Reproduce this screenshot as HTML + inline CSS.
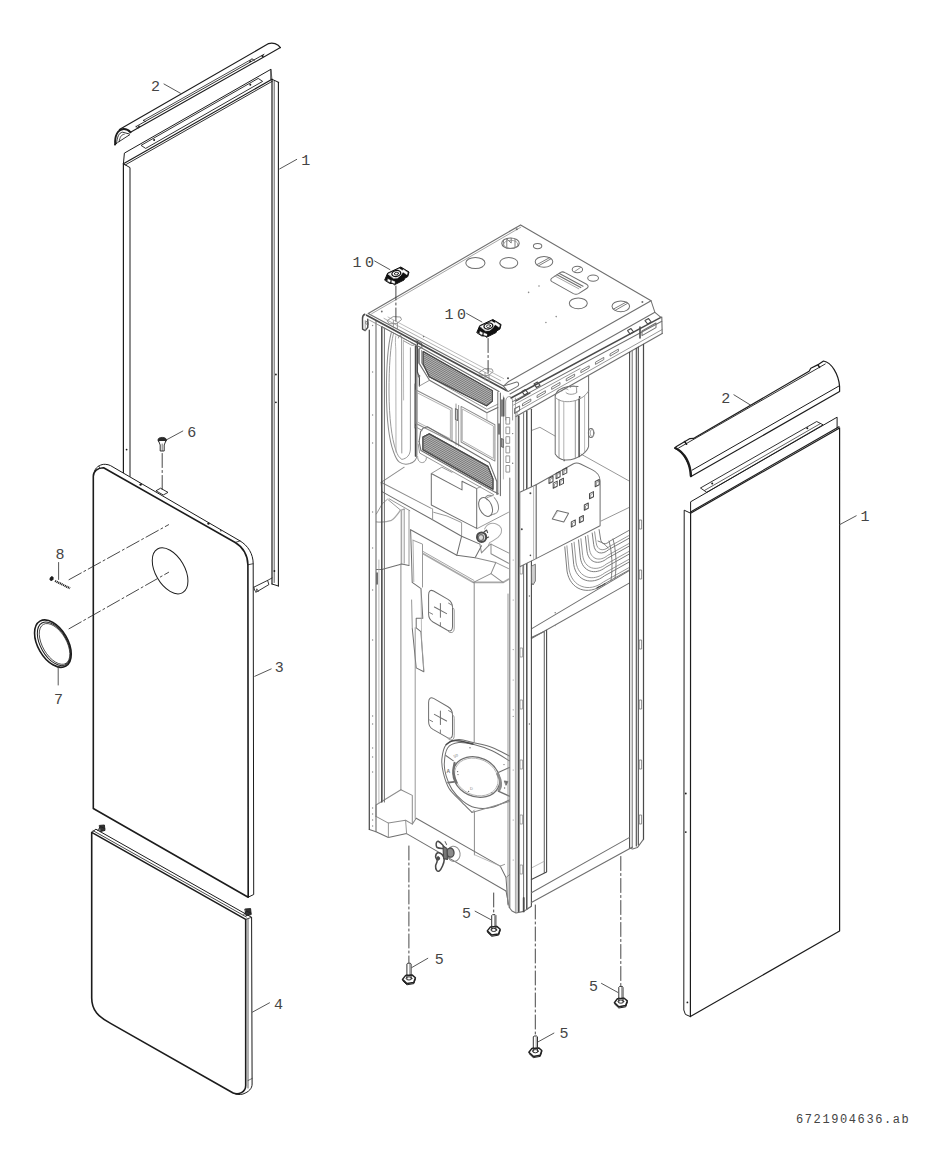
<!DOCTYPE html>
<html><head><meta charset="utf-8"><title>Exploded view</title>
<style>
html,body{margin:0;padding:0;background:#fff;}
body{width:942px;height:1166px;overflow:hidden;font-family:"Liberation Sans",sans-serif;}
svg{display:block;stroke-linecap:round;stroke-linejoin:round;}
</style></head><body>
<svg width="942" height="1166" viewBox="0 0 942 1166">
<rect width="942" height="1166" fill="#fff"/>
<g id="trimL">
<path d="M115.2,144.4 C114.6,136.0 117.4,129.8 123.7,128.9 C126.6,128.8 128.8,130.2 130.5,132.3" stroke="#1c1c1c" stroke-width="2.0" fill="none" />
<line x1="117.7" y1="142.5" x2="129.6" y2="134.8" stroke="#1c1c1c" stroke-width="0.9" />
<path d="M116.6,143.4 C117,137 119,132.6 122.6,132.2 L129.4,134" stroke="#1c1c1c" stroke-width="0.9" fill="none" />
<path d="M114.4,144.8 L116.6,143.4" stroke="#1c1c1c" stroke-width="1.0" fill="none" />
<path d="M119.2,141.5 C119.8,136.8 121.6,134.4 124.2,134.3" stroke="#1c1c1c" stroke-width="0.8" fill="none" />
<line x1="119.4" y1="129.6" x2="268.6" y2="43.6" stroke="#1c1c1c" stroke-width="1.2" />
<path d="M268.6,43.6 C272.5,42.4 278,43.6 280.4,47.6" stroke="#1c1c1c" stroke-width="1.2" fill="none" />
<line x1="130.5" y1="132.3" x2="280.4" y2="47.6" stroke="#1c1c1c" stroke-width="1.1" />
<line x1="136.0" y1="126.6" x2="264.0" y2="54.3" stroke="#1c1c1c" stroke-width="0.9" />
<line x1="143.4" y1="120.4" x2="252.0" y2="59.0" stroke="#1c1c1c" stroke-width="0.8" />
<path d="M136.0,126.6 L138.0,128.0" stroke="#1c1c1c" stroke-width="0.8" fill="none" />
<path d="M143.4,120.4 L145.6,121.6" stroke="#1c1c1c" stroke-width="0.8" fill="none" />
<path d="M252.0,59.0 L254.4,60.2" stroke="#1c1c1c" stroke-width="0.8" fill="none" />
<circle cx="262.6" cy="56.2" r="1.1" fill="#1c1c1c"/>
<circle cx="250.2" cy="61.2" r="0.9" fill="#1c1c1c"/>
<circle cx="139.0" cy="126.4" r="0.9" fill="#1c1c1c"/>
</g>
<g id="panelL">
<path d="M123.4,163.8 L124.4,153.1 L270.9,69.3 L270.9,79.3" stroke="#1c1c1c" stroke-width="1.0" fill="none" />
<path d="M141.4,145.2 L258.2,78.4 L262.6,81.4 L146.0,148.2 Z" stroke="#1c1c1c" stroke-width="0.9" fill="none" />
<circle cx="154.1" cy="140.0" r="1.0" fill="#1c1c1c"/>
<circle cx="250.3" cy="84.8" r="1.0" fill="#1c1c1c"/>
<line x1="123.4" y1="163.8" x2="272.0" y2="79.3" stroke="#1c1c1c" stroke-width="1.2" />
<line x1="125.2" y1="165.0" x2="272.4" y2="81.2" stroke="#1c1c1c" stroke-width="0.9" />
<path d="M272.0,79.3 L278.4,82.2" stroke="#1c1c1c" stroke-width="1.0" fill="none" />
<path d="M270.9,69.3 L272.0,79.3" stroke="#1c1c1c" stroke-width="0.6" fill="none" />
<line x1="272.0" y1="79.3" x2="272.0" y2="584.0" stroke="#1c1c1c" stroke-width="1.2" />
<line x1="274.2" y1="81.0" x2="274.2" y2="582.5" stroke="#1c1c1c" stroke-width="0.7" />
<line x1="278.4" y1="82.2" x2="278.4" y2="586.0" stroke="#1c1c1c" stroke-width="1.1" />
<line x1="123.4" y1="163.8" x2="123.4" y2="472.6" stroke="#1c1c1c" stroke-width="1.2" />
<path d="M123.4,163.8 L130.0,167.6 L130.0,476.4" stroke="#1c1c1c" stroke-width="1.0" fill="none" />
<circle cx="126.6" cy="449.6" r="0.9" fill="#1c1c1c"/>
<circle cx="275.9" cy="402.3" r="0.9" fill="#1c1c1c"/>
<circle cx="274.4" cy="571.0" r="0.9" fill="#1c1c1c"/>
<circle cx="275.9" cy="374.5" r="0.9" fill="#1c1c1c"/>
<path d="M272.0,584.0 L278.4,586.0" stroke="#1c1c1c" stroke-width="1.0" fill="none" />
<path d="M253.8,587.2 L267.6,580.4 L268.9,584.6 L256.4,592.0 L254.6,590.2 L253.8,587.2" stroke="#1c1c1c" stroke-width="0.9" fill="none" />
<path d="M267.6,580.4 L272.0,578.0" stroke="#1c1c1c" stroke-width="0.8" fill="none" />
<path d="M255.8,592.4 L256.8,588.8 L258.4,591.4" stroke="#1c1c1c" stroke-width="0.7" fill="none" />
</g>
<g id="screw6">
<ellipse cx="162.2" cy="440.0" rx="4.2" ry="2.6" transform="rotate(0 162.2 440.0)" stroke="#1c1c1c" stroke-width="0.8" fill="#2a2a2a"/>
<path d="M158.6,441.0 L160.2,445.0 L160.2,451.0 L164.2,451.0 L164.2,445.0 L165.8,441.0" stroke="#1c1c1c" stroke-width="0.9" fill="#fff" />
<line x1="162.2" y1="444.0" x2="162.2" y2="450.5" stroke="#1c1c1c" stroke-width="0.6" />
<line x1="162.2" y1="453.5" x2="162.2" y2="489.5" stroke="#333" stroke-width="0.9" stroke-dasharray="14 3 2 3"/>
<path d="M156.3,490.6 L160.6,488.2 L168.0,492.4 L163.6,494.8 Z" stroke="#1c1c1c" stroke-width="0.9" fill="none" />
<line x1="165.8" y1="440.2" x2="182.8" y2="431.0" stroke="#444" stroke-width="0.9" />
<text x="191.7" y="436.6" font-family="'Liberation Mono', monospace" font-size="15" fill="#444" text-anchor="middle" letter-spacing="0">6</text>
</g>
<g id="panel3">
<path d="M94.6,471.0 C95.6,468.4 97.0,467.0 98.8,466.1 C101.0,464.6 103.2,464.2 105.2,464.3 C107.2,464.4 109.0,464.8 110.5,465.6 L240.0,540.9 C248.0,545.6 253.2,554.0 253.2,563.7 L253.7,894.5 L248.2,897.2" stroke="#1c1c1c" stroke-width="1.0" fill="#fff" />
<path d="M93.3,476.2 C93.3,471.6 97.6,467.6 103.6,467.7 L235.2,542.5 C243.0,547.0 247.9,555.6 247.9,564.8 L248.2,897.2 L93.3,808.5 Z" stroke="#1c1c1c" stroke-width="1.6" fill="#fff" />
<line x1="235.2" y1="542.5" x2="240.0" y2="540.9" stroke="#1c1c1c" stroke-width="0.8" />
<line x1="247.9" y1="564.8" x2="253.2" y2="563.7" stroke="#1c1c1c" stroke-width="0.8" />
<line x1="98.8" y1="466.1" x2="100.0" y2="468.6" stroke="#1c1c1c" stroke-width="0.7" />
<circle cx="140.6" cy="484.6" r="1.2" fill="#1c1c1c"/>
<circle cx="208.5" cy="523.6" r="1.2" fill="#1c1c1c"/>
<circle cx="220.9" cy="530.8" r="0.7" fill="#1c1c1c"/>
<ellipse cx="170.1" cy="570.8" rx="25.2" ry="14.6" transform="rotate(60 170.1 570.8)" stroke="#1c1c1c" stroke-width="1.0" fill="none"/>
<line x1="69.0" y1="579.7" x2="168.6" y2="524.7" stroke="#333" stroke-width="0.9" stroke-dasharray="14 3 2 3"/>
<line x1="69.0" y1="628.8" x2="168.6" y2="572.3" stroke="#333" stroke-width="0.9" stroke-dasharray="14 3 2 3"/>
<line x1="254.8" y1="676.3" x2="271.2" y2="668.9" stroke="#444" stroke-width="0.9" />
<text x="279.2" y="672.4" font-family="'Liberation Mono', monospace" font-size="15" fill="#444" text-anchor="middle" letter-spacing="0">3</text>
</g>
<g id="ring7">
<ellipse cx="52.9" cy="643.6" rx="25.9" ry="15.0" transform="rotate(60 52.9 643.6)" stroke="#1c1c1c" stroke-width="1.6" fill="none"/>
<ellipse cx="53.9" cy="643.8" rx="24.0" ry="13.2" transform="rotate(60 53.9 643.8)" stroke="#1c1c1c" stroke-width="1.0" fill="none"/>
<ellipse cx="54.6" cy="644.0" rx="22.6" ry="12.0" transform="rotate(60 54.6 644.0)" stroke="#1c1c1c" stroke-width="0.7" fill="none"/>
<line x1="58.2" y1="666.5" x2="58.2" y2="685.0" stroke="#444" stroke-width="0.9" />
<text x="58.6" y="703.6" font-family="'Liberation Mono', monospace" font-size="15" fill="#444" text-anchor="middle" letter-spacing="0">7</text>
</g>
<g id="screw8">
<ellipse cx="51.6" cy="578.6" rx="1.6" ry="2.1" transform="rotate(30 51.6 578.6)" stroke="#1c1c1c" stroke-width="0.6" fill="#1c1c1c"/>
<line x1="55.0" y1="580.9" x2="70.0" y2="588.3" stroke="#1c1c1c" stroke-width="2.2" stroke-dasharray="1.1 0.7" stroke-linecap="butt"/>
<line x1="58.6" y1="562.5" x2="58.6" y2="579.5" stroke="#444" stroke-width="0.9" />
<text x="60.0" y="559.4" font-family="'Liberation Mono', monospace" font-size="15" fill="#444" text-anchor="middle" letter-spacing="0">8</text>
</g>
<g id="panel4">
<path d="M91.7,832.4 L95.9,829.2 L251.6,917.3 L252.1,1084.0 C252.1,1088.5 249.0,1091.8 243.0,1094.0 C240.0,1095.0 236.0,1094.6 232.7,1092.8" stroke="#1c1c1c" stroke-width="1.0" fill="#fff" />
<path d="M91.7,832.4 L91.7,998.0 C91.7,1010.5 98.5,1017.0 111.0,1023.6 L232.7,1092.8 C238.6,1095.6 245.7,1092.0 245.7,1085.5 L245.7,919.4 Z" stroke="#1c1c1c" stroke-width="1.6" fill="#fff" />
<line x1="93.0" y1="830.6" x2="246.4" y2="917.0" stroke="#1c1c1c" stroke-width="0.8" />
<line x1="245.7" y1="919.4" x2="251.6" y2="917.3" stroke="#1c1c1c" stroke-width="0.8" />
<line x1="248.0" y1="919.0" x2="248.0" y2="1088.0" stroke="#1c1c1c" stroke-width="0.7" />
<line x1="248.0" y1="1080.5" x2="252.1" y2="1078.5" stroke="#1c1c1c" stroke-width="0.6" />
<path d="M99.6,825.4 L104.4,825.0 L105.0,830.4 L100.6,831.6 Z" stroke="#1c1c1c" stroke-width="0.9" fill="#333" />
<path d="M97.6,830.6 L100.4,826.6 L104.8,828.4" stroke="#1c1c1c" stroke-width="0.8" fill="none" />
<path d="M245.2,909.0 L250.6,908.6 L251.2,914.6 L246.4,915.6 Z" stroke="#1c1c1c" stroke-width="0.9" fill="#333" />
<path d="M243.6,915.0 L246.4,911.0 L251.0,913.0" stroke="#1c1c1c" stroke-width="0.8" fill="none" />
<line x1="252.5" y1="1012.1" x2="269.5" y2="1002.8" stroke="#444" stroke-width="0.9" />
<text x="278.5" y="1008.6" font-family="'Liberation Mono', monospace" font-size="15" fill="#444" text-anchor="middle" letter-spacing="0">4</text>
</g>
<line x1="164.0" y1="84.0" x2="180.5" y2="93.3" stroke="#444" stroke-width="0.9" />
<text x="155.6" y="91.4" font-family="'Liberation Mono', monospace" font-size="15" fill="#444" text-anchor="middle" letter-spacing="0">2</text>
<line x1="279.7" y1="168.9" x2="296.7" y2="159.4" stroke="#444" stroke-width="0.9" />
<text x="305.8" y="164.7" font-family="'Liberation Mono', monospace" font-size="15" fill="#444" text-anchor="middle" letter-spacing="0">1</text>
<g id="trimR">
<path d="M674.8,448.2 L676.0,446.8 L690.0,438.6 L693.6,438.4 L696.4,436.8 L809.1,371.2 L810.8,368.3 L817.6,364.9 L823.5,361.0 C831.5,362.4 838.6,374.0 839.6,386.5 L839.6,391.6 L691.0,476.6 C690.6,464.0 683.6,452.0 674.8,448.2 Z" stroke="#1c1c1c" stroke-width="1.2" fill="#fff" />
<path d="M675.4,448.0 C684.2,452.2 690.4,463.0 690.9,476.0" stroke="#1c1c1c" stroke-width="2.4" fill="none" />
<line x1="678.6" y1="448.0" x2="825.2" y2="364.0" stroke="#1c1c1c" stroke-width="0.9" />
<line x1="684.6" y1="441.6" x2="686.6" y2="444.2" stroke="#1c1c1c" stroke-width="1.6" />
<line x1="818.0" y1="365.0" x2="819.6" y2="367.4" stroke="#1c1c1c" stroke-width="1.4" />
<line x1="692.2" y1="470.1" x2="838.8" y2="386.1" stroke="#1c1c1c" stroke-width="1.0" />
</g>
<g id="panelR">
<path d="M690.6,513.2 L690.6,501.8 L837.1,417.2 L837.1,427.9" stroke="#1c1c1c" stroke-width="1.0" fill="none" />
<path d="M700.8,487.8 L816.7,421.5 L823.1,424.8 L707.1,492.1 Z" stroke="#1c1c1c" stroke-width="0.9" fill="none" />
<line x1="704.6" y1="490.4" x2="820.4" y2="423.6" stroke="#1c1c1c" stroke-width="0.7" />
<circle cx="712.2" cy="483.4" r="1.0" fill="#1c1c1c"/>
<circle cx="807.3" cy="428.2" r="1.0" fill="#1c1c1c"/>
<path d="M690.6,513.2 L839.6,427.9 L839.6,930.9 L690.4,1016.6 Z" stroke="#1c1c1c" stroke-width="1.2" fill="none" />
<line x1="690.6" y1="511.9" x2="839.0" y2="426.7" stroke="#1c1c1c" stroke-width="1.1" />
<path d="M690.6,513.2 L684.2,510.2 L683.8,1010.0 L685.4,1014.4 L690.4,1016.6" stroke="#1c1c1c" stroke-width="1.0" fill="none" />
<circle cx="685.8" cy="793.5" r="0.9" fill="#1c1c1c"/>
<circle cx="685.8" cy="832.1" r="0.9" fill="#1c1c1c"/>
<circle cx="687.4" cy="1002.4" r="0.9" fill="#1c1c1c"/>
<line x1="839.6" y1="524.7" x2="856.2" y2="515.8" stroke="#444" stroke-width="0.9" />
<text x="865.1" y="521.4" font-family="'Liberation Mono', monospace" font-size="15" fill="#444" text-anchor="middle" letter-spacing="0">1</text>
<line x1="733.9" y1="394.8" x2="750.4" y2="405.0" stroke="#444" stroke-width="0.9" />
<text x="725.7" y="403.2" font-family="'Liberation Mono', monospace" font-size="15" fill="#444" text-anchor="middle" letter-spacing="0">2</text>
</g>
<g id="unit">
<g id="rightface">
<path d="M532.3,430.2 L539.9,427.3 L555.0,436.0" stroke="#8c8c8c" stroke-width="0.9" fill="none" />
<path d="M581.0,454.1 L628.8,480.8" stroke="#8c8c8c" stroke-width="0.9" fill="none" />
<path d="M601.1,521.0 L628.8,507.6" stroke="#8c8c8c" stroke-width="0.9" fill="none" />
<path d="M555.2,395.8 L555.2,454.1 C557.6,458.0 561.0,459.8 565.0,460.0 C572.0,460.2 578.6,457.6 582.9,454.1 C586.0,451.6 588.0,449.0 588.6,446.4 L588.6,376.0" stroke="#6f6f6f" stroke-width="1.01" fill="none" />
<path d="M555.2,395.8 C556.0,391.6 561.0,388.0 568.0,386.6 C572.0,386.0 575.0,386.0 578.0,386.6" stroke="#6f6f6f" stroke-width="1.01" fill="none" />
<path d="M556.0,398.0 C560.0,402.0 568.0,402.6 575.3,400.6 C581.0,399.0 586.0,395.6 588.6,391.0" stroke="#8c8c8c" stroke-width="0.9" fill="none" />
<line x1="559.0" y1="399.6" x2="559.0" y2="457.6" stroke="#8c8c8c" stroke-width="0.9" />
<line x1="563.8" y1="401.4" x2="563.8" y2="459.6" stroke="#a8a8a8" stroke-width="0.9" />
<line x1="575.3" y1="400.6" x2="575.3" y2="458.6" stroke="#8c8c8c" stroke-width="0.9" />
<line x1="579.1" y1="399.0" x2="579.1" y2="456.6" stroke="#4a4a4a" stroke-width="1.46" />
<line x1="584.6" y1="395.6" x2="584.6" y2="452.0" stroke="#a8a8a8" stroke-width="0.78" />
<path d="M562.0,391.0 C563.0,388.6 566.0,388.0 568.0,389.6 M570.0,387.6 C571.6,385.6 575.0,385.6 576.6,387.6 L576.6,392.0" stroke="#8c8c8c" stroke-width="0.9" fill="none" />
<path d="M566.0,392.6 C568.0,395.0 574.0,395.0 577.0,392.4" stroke="#8c8c8c" stroke-width="0.9" fill="none" />
<circle cx="564.2" cy="460.4" r="0.9" fill="#6f6f6f"/>
<circle cx="579.6" cy="397.0" r="0.9" fill="#4a4a4a"/>
<ellipse cx="591.0" cy="433.0" rx="2.6" ry="4.6" transform="rotate(0 591.0 433.0)" stroke="#6f6f6f" stroke-width="1.01" fill="none"/>
<ellipse cx="592.2" cy="433.0" rx="2.0" ry="3.6" transform="rotate(0 592.2 433.0)" stroke="#8c8c8c" stroke-width="0.78" fill="none"/>
<path d="M564.8,546.8 L567.0,571.0 C570.0,590.0 588.0,596.0 603.0,584.6 L628.8,570.1" stroke="#6f6f6f" stroke-width="0.9" fill="none" />
<path d="M566.9,545.8 L569.0,569.0 C571.9,587.3 589.1,592.9 603.4,582.0 L628.8,567.7" stroke="#8c8c8c" stroke-width="0.9" fill="none" />
<path d="M571.7,543.4 L573.7,564.4 C576.2,581.0 591.6,585.8 604.4,575.9 L628.8,562.2" stroke="#6f6f6f" stroke-width="0.9" fill="none" />
<path d="M574.1,542.2 L576.0,562.1 C578.4,577.9 592.9,582.2 604.9,572.8 L628.8,559.4" stroke="#8c8c8c" stroke-width="0.9" fill="none" />
<path d="M578.5,539.9 L580.4,557.8 C582.4,572.0 595.2,575.6 605.8,567.2 L628.8,554.3" stroke="#6f6f6f" stroke-width="0.9" fill="none" />
<path d="M580.9,538.7 L582.7,555.5 C584.6,568.9 596.5,572.0 606.3,564.1 L628.8,551.5" stroke="#8c8c8c" stroke-width="0.9" fill="none" />
<path d="M585.4,536.5 L587.0,551.2 C588.6,563.0 598.8,565.4 607.2,558.4 L628.8,546.3" stroke="#6f6f6f" stroke-width="0.9" fill="none" />
<path d="M587.8,535.3 L589.4,548.9 C590.8,559.9 600.1,561.8 607.7,555.4 L628.8,543.6" stroke="#8c8c8c" stroke-width="0.9" fill="none" />
<path d="M592.2,533.0 L593.7,544.6 C594.8,554.0 602.4,555.2 608.6,549.7 L628.8,538.4" stroke="#6f6f6f" stroke-width="0.9" fill="none" />
<path d="M594.6,531.8 L596.1,542.3 C597.0,550.9 603.7,551.6 609.1,546.7 L628.8,535.6" stroke="#8c8c8c" stroke-width="0.9" fill="none" />
<path d="M599.1,529.6 L600.4,538.0 C601.0,545.0 606.0,545.0 610.0,541.0 L628.8,530.5" stroke="#6f6f6f" stroke-width="0.9" fill="none" />
<path d="M609.0,541.0 C612.0,552 613.0,566 611.0,580.6 M613.0,539.0 C616.0,550 617.0,564 615.0,578.4" stroke="#6f6f6f" stroke-width="0.9" fill="none" />
<path d="M598.0,541.0 C603.0,542.6 606.0,545.0 608.0,548.0" stroke="#6f6f6f" stroke-width="0.9" fill="none" />
<path d="M597.0,588.0 C599.0,586.0 603.0,586.0 605.0,583.6" stroke="#4a4a4a" stroke-width="1.12" fill="none" />
<line x1="531.4" y1="628.9" x2="629.2" y2="570.6" stroke="#6f6f6f" stroke-width="1.01" />
<line x1="531.4" y1="638.5" x2="629.2" y2="583.1" stroke="#6f6f6f" stroke-width="1.01" />
<circle cx="555.2" cy="612.7" r="0.7" fill="#6f6f6f"/>
<circle cx="555.2" cy="625.6" r="0.6" fill="#8c8c8c"/>
<path d="M531.4,637.6 L544.3,631.4 L544.3,872.4" stroke="#6f6f6f" stroke-width="1.12" fill="none" />
<path d="M546.6,630.4 L546.6,871.9 L531.4,879.5" stroke="#4a4a4a" stroke-width="1.12" fill="none" />
<path d="M531.4,868.0 L544.0,861.4" stroke="#a8a8a8" stroke-width="0.78" fill="none" />
</g>
<g id="leftface">
<path d="M391.3,332.5 C388.0,345 386.4,365 386.4,392 C386.6,418 389.0,440 393.6,452 C395.4,457 397.0,460.6 399.4,462.2 C402.0,464.0 406.0,464.6 410.0,463.6 C414.0,462.4 416.8,459.0 417.0,454.6 L417.1,348.0" stroke="#8c8c8c" stroke-width="1.01" fill="none" />
<path d="M393.4,333.6 C390.4,346 389.0,366 389.0,392 C389.2,418 391.6,438 395.8,450 C397.4,455 399.0,457.6 401.4,459.0" stroke="#8c8c8c" stroke-width="0.9" fill="none" />
<path d="M395.8,336.0 C395.0,340 395.6,345 395.8,350 L396.0,452" stroke="#a8a8a8" stroke-width="0.9" fill="none" />
<path d="M398.4,338.0 C399.0,335 400.6,334.6 401.6,336.6 L401.8,453.0" stroke="#8c8c8c" stroke-width="0.9" fill="none" />
<path d="M403.4,340.0 L403.6,400" stroke="#a8a8a8" stroke-width="0.78" fill="none" />
<path d="M410.4,347.8 L410.4,449.0 C410.2,455 407.0,458.6 402.0,459.4" stroke="#8c8c8c" stroke-width="0.9" fill="none" />
<path d="M404.0,341.0 L410.4,344.6 C412.6,346 414.4,345.6 415.4,344.2" stroke="#8c8c8c" stroke-width="0.9" fill="none" />
<path d="M411.0,342.6 L416.4,345.4 L417.1,348.0" stroke="#6f6f6f" stroke-width="1.01" fill="none" />
<path d="M417.6,456.6 C417.6,460.6 419.6,462.6 422.4,462.6 C425.0,462.4 426.6,460.0 426.4,457.6" stroke="#8c8c8c" stroke-width="0.9" fill="none" />
<path d="M416.0,340.6 L421.6,343.4 L422.0,347.4 L419.0,349.0 L419.0,363.0" stroke="#6f6f6f" stroke-width="1.01" fill="none" />
<path d="M417.4,341.4 L417.4,372.0 L419.4,378.0 L419.4,386.0" stroke="#4a4a4a" stroke-width="1.23" fill="none" />
<line x1="415.6" y1="346.0" x2="415.6" y2="456.0" stroke="#4a4a4a" stroke-width="1.68" />
<circle cx="419.0" cy="376.0" r="1.3" fill="#6f6f6f"/>
<line x1="419.0" y1="346.6" x2="499.0" y2="391.5" stroke="#6f6f6f" stroke-width="1.12" />
<path d="M419.0,349.0 L419.0,363.1 L429.5,380.3 L486.9,412.7 L497.8,407.4" stroke="#6f6f6f" stroke-width="1.12" fill="none" />
<path d="M421.6,350.4 L421.6,363.0 L430.6,377.6 L487.0,409.4 L497.8,404.2" stroke="#8c8c8c" stroke-width="0.9" fill="none" />
<path d="M423.1,351.5 L492.4,390.6 L492.4,401.1 L486.6,405.9 L429.3,376.8 L423.1,363.9 Z" stroke="#4a4a4a" stroke-width="1.01" fill="#bcbcbc" />
<clipPath id="cg1"><path d="M423.1,351.5 L492.4,390.6 L492.4,401.1 L486.6,405.9 L429.3,376.8 L423.1,363.9 Z"/></clipPath>
<g clip-path="url(#cg1)">
<line x1="420.0" y1="350.0" x2="500.0" y2="395.2" stroke="#6e6e6e" stroke-width="0.9" />
<line x1="420.0" y1="351.9" x2="500.0" y2="397.1" stroke="#6e6e6e" stroke-width="0.9" />
<line x1="420.0" y1="353.8" x2="500.0" y2="399.0" stroke="#6e6e6e" stroke-width="0.9" />
<line x1="420.0" y1="355.7" x2="500.0" y2="400.9" stroke="#6e6e6e" stroke-width="0.9" />
<line x1="420.0" y1="357.6" x2="500.0" y2="402.8" stroke="#6e6e6e" stroke-width="0.9" />
<line x1="420.0" y1="359.5" x2="500.0" y2="404.7" stroke="#6e6e6e" stroke-width="0.9" />
<line x1="420.0" y1="361.4" x2="500.0" y2="406.6" stroke="#6e6e6e" stroke-width="0.9" />
<line x1="420.0" y1="363.3" x2="500.0" y2="408.5" stroke="#6e6e6e" stroke-width="0.9" />
<line x1="420.0" y1="365.2" x2="500.0" y2="410.4" stroke="#6e6e6e" stroke-width="0.9" />
<line x1="420.0" y1="367.1" x2="500.0" y2="412.3" stroke="#6e6e6e" stroke-width="0.9" />
<line x1="420.0" y1="369.0" x2="500.0" y2="414.2" stroke="#6e6e6e" stroke-width="0.9" />
<line x1="420.0" y1="370.9" x2="500.0" y2="416.1" stroke="#6e6e6e" stroke-width="0.9" />
<line x1="420.0" y1="372.8" x2="500.0" y2="418.0" stroke="#6e6e6e" stroke-width="0.9" />
<line x1="420.0" y1="374.7" x2="500.0" y2="419.9" stroke="#6e6e6e" stroke-width="0.9" />
</g>
<path d="M423.1,351.5 L492.4,390.6 L492.4,401.1 L486.6,405.9 L429.3,376.8 L423.1,363.9 Z" stroke="#4a4a4a" stroke-width="1.01" fill="none" />
<path d="M414.6,384.0 L414.6,428.0" stroke="#8c8c8c" stroke-width="0.9" fill="none" />
<path d="M429.5,380.3 L419.4,386.0" stroke="#8c8c8c" stroke-width="0.9" fill="none" />
<path d="M416.0,390.0 L452.0,408.5 L452.0,441.5 L416.0,423.5 Z" stroke="#8c8c8c" stroke-width="1.01" fill="none" />
<path d="M417.6,393.0 L450.4,409.8 L450.4,438.8 L417.6,422.2 Z" stroke="#a8a8a8" stroke-width="0.9" fill="none" />
<path d="M461.1,406.4 L494.9,424.8 L494.9,461.1 L461.1,442.0 Z" stroke="#8c8c8c" stroke-width="1.01" fill="none" />
<path d="M462.6,409.2 L493.4,426.0 L493.4,458.4 L462.6,441.0 Z" stroke="#a8a8a8" stroke-width="0.9" fill="none" />
<line x1="456.0" y1="404.0" x2="456.0" y2="445.0" stroke="#8c8c8c" stroke-width="0.9" />
<line x1="458.6" y1="405.4" x2="458.6" y2="446.0" stroke="#8c8c8c" stroke-width="0.9" />
<path d="M455.4,408.6 L457.6,409.8 L457.6,420.6 L455.4,419.4 Z" stroke="#6f6f6f" stroke-width="1.01" fill="none" />
<line x1="452.0" y1="441.5" x2="461.1" y2="446.4" stroke="#8c8c8c" stroke-width="0.9" />
<line x1="486.9" y1="412.7" x2="486.9" y2="420.4" stroke="#a8a8a8" stroke-width="0.78" />
<path d="M499.0,424.0 L499.0,434.0" stroke="#4a4a4a" stroke-width="1.46" fill="none" />
<path d="M419.1,441.6 L420.6,431.6 L423.0,428.2 L427.4,426.8 L489.2,462.4 L496.8,481.5 L496.8,494.3" stroke="#6f6f6f" stroke-width="1.12" fill="none" />
<path d="M416.0,427.0 L422.0,430.4" stroke="#8c8c8c" stroke-width="0.9" fill="none" />
<path d="M419.1,441.6 L421.0,450.6 L494.3,491.7 L498.1,493.6" stroke="#6f6f6f" stroke-width="1.12" fill="none" />
<path d="M418.2,444.0 L419.6,453.0 L493.6,494.6" stroke="#8c8c8c" stroke-width="0.9" fill="none" />
<path d="M422.9,436.9 L429.3,433.8 L487.9,466.2 L493.0,479.0 L493.0,489.2 L422.9,449.7 Z" stroke="#4a4a4a" stroke-width="1.01" fill="#bcbcbc" />
<clipPath id="cg2"><path d="M422.9,436.9 L429.3,433.8 L487.9,466.2 L493.0,479.0 L493.0,489.2 L422.9,449.7 Z"/></clipPath>
<g clip-path="url(#cg2)">
<line x1="418.0" y1="428.4" x2="498.0" y2="472.8" stroke="#6e6e6e" stroke-width="0.9" />
<line x1="418.0" y1="430.3" x2="498.0" y2="474.7" stroke="#6e6e6e" stroke-width="0.9" />
<line x1="418.0" y1="432.2" x2="498.0" y2="476.6" stroke="#6e6e6e" stroke-width="0.9" />
<line x1="418.0" y1="434.1" x2="498.0" y2="478.5" stroke="#6e6e6e" stroke-width="0.9" />
<line x1="418.0" y1="436.0" x2="498.0" y2="480.4" stroke="#6e6e6e" stroke-width="0.9" />
<line x1="418.0" y1="437.9" x2="498.0" y2="482.3" stroke="#6e6e6e" stroke-width="0.9" />
<line x1="418.0" y1="439.8" x2="498.0" y2="484.2" stroke="#6e6e6e" stroke-width="0.9" />
<line x1="418.0" y1="441.7" x2="498.0" y2="486.1" stroke="#6e6e6e" stroke-width="0.9" />
<line x1="418.0" y1="443.6" x2="498.0" y2="488.0" stroke="#6e6e6e" stroke-width="0.9" />
<line x1="418.0" y1="445.5" x2="498.0" y2="489.9" stroke="#6e6e6e" stroke-width="0.9" />
<line x1="418.0" y1="447.4" x2="498.0" y2="491.8" stroke="#6e6e6e" stroke-width="0.9" />
<line x1="418.0" y1="449.3" x2="498.0" y2="493.7" stroke="#6e6e6e" stroke-width="0.9" />
<line x1="418.0" y1="451.2" x2="498.0" y2="495.6" stroke="#6e6e6e" stroke-width="0.9" />
<line x1="418.0" y1="453.1" x2="498.0" y2="497.5" stroke="#6e6e6e" stroke-width="0.9" />
</g>
<path d="M422.9,436.9 L429.3,433.8 L487.9,466.2 L493.0,479.0 L493.0,489.2 L422.9,449.7 Z" stroke="#4a4a4a" stroke-width="1.01" fill="none" />
<path d="M404.2,467.2 L381.1,482.3 L381.9,491.6" stroke="#8c8c8c" stroke-width="1.01" fill="none" />
<line x1="381.1" y1="482.3" x2="431.3" y2="508.4" stroke="#8c8c8c" stroke-width="1.01" />
<path d="M381.9,491.6 L432.1,519.5 L461.6,536.2 L479.9,544.1" stroke="#6f6f6f" stroke-width="1.01" fill="none" />
<path d="M432.6,508.8 L432.6,519.5" stroke="#8c8c8c" stroke-width="0.9" fill="none" />
<path d="M433.7,512.3 L447.0,516.0 L461.6,522.6 L461.6,536.2" stroke="#8c8c8c" stroke-width="0.9" fill="none" />
<path d="M431.3,473.5 L462.0,489.9 L462.0,481.2 L476.7,488.6 L476.7,528.4 L431.3,505.0 Z" stroke="#6f6f6f" stroke-width="1.01" fill="#fff" />
<path d="M431.3,473.5 L441.8,467.2 L452.0,472.4" stroke="#8c8c8c" stroke-width="0.9" fill="none" />
<path d="M476.7,528.8 L508.5,512.3" stroke="#8c8c8c" stroke-width="0.9" fill="none" />
<path d="M476.7,488.6 L480.6,486.6" stroke="#8c8c8c" stroke-width="0.9" fill="none" />
<ellipse cx="491.6" cy="504.6" rx="9.9" ry="6.2" transform="rotate(66 491.6 504.6)" stroke="#8c8c8c" stroke-width="1.01" fill="#fff"/>
<path d="M487.4,497.6 L493.6,495.6 L495.8,513.4 L488.6,516.2 Z" fill="#fff" stroke="none"/>
<line x1="487.0" y1="497.6" x2="493.2" y2="495.4" stroke="#8c8c8c" stroke-width="0.9" />
<line x1="488.4" y1="516.2" x2="495.4" y2="513.4" stroke="#8c8c8c" stroke-width="0.9" />
<ellipse cx="485.6" cy="507.0" rx="9.9" ry="6.2" transform="rotate(66 485.6 507.0)" stroke="#6f6f6f" stroke-width="1.01" fill="#fff"/>
<circle cx="487.0" cy="499.6" r="0.6" fill="#6f6f6f"/>
<path d="M484.6,529.0 C486.0,526.0 488.0,524.4 490.6,523.6 C494.6,522.6 499.6,524.6 501.2,528.2 C502.4,531.6 501.0,534.6 498.0,537.4 C495.6,539.4 492.6,541.0 489.6,542.6 L488.6,545.0" stroke="#a8a8a8" stroke-width="1.01" fill="none" />
<path d="M479.9,544.1 L481.5,552.9 L488.6,545.7" stroke="#8c8c8c" stroke-width="1.01" fill="none" />
<ellipse cx="481.6" cy="537.2" rx="4.6" ry="4.8" transform="rotate(0 481.6 537.2)" stroke="#4a4a4a" stroke-width="2.02" fill="#ddd"/>
<ellipse cx="481.0" cy="537.6" rx="2.6" ry="3.0" transform="rotate(0 481.0 537.6)" stroke="#6f6f6f" stroke-width="1.12" fill="none"/>
<path d="M484.0,532.0 L486.6,530.0 L487.6,532.6 M485.6,538.6 L488.6,537.0" stroke="#4a4a4a" stroke-width="1.12" fill="none" />
<path d="M410.6,529.8 L456.8,555.3 L475.1,557.7 L481.5,545.7" stroke="#6f6f6f" stroke-width="1.01" fill="none" />
<path d="M461.6,536.2 L456.8,555.3" stroke="#6f6f6f" stroke-width="1.01" fill="none" />
<path d="M376.4,513.9 L382.4,503.6 L387.5,499.2 L400.3,509.9" stroke="#8c8c8c" stroke-width="0.9" fill="none" />
<path d="M381.9,492.4 L381.9,503.0" stroke="#8c8c8c" stroke-width="0.9" fill="none" />
<path d="M376.4,521.8 C382,522.4 388,521.6 391.5,520.3 C395.6,517.6 398.0,513.6 400.3,510.4 L404.2,509.1" stroke="#a8a8a8" stroke-width="1.34" fill="none" />
<path d="M389.1,498.8 L409.8,510.7" stroke="#8c8c8c" stroke-width="0.9" fill="none" />
<line x1="401.4" y1="511.0" x2="401.4" y2="563.6" stroke="#a8a8a8" stroke-width="1.57" />
<line x1="404.2" y1="509.1" x2="404.2" y2="563.2" stroke="#8c8c8c" stroke-width="0.9" />
<line x1="409.0" y1="510.7" x2="409.0" y2="565.0" stroke="#8c8c8c" stroke-width="0.9" />
<path d="M376.4,569.6 L381.9,569.6 L401.8,564.0 L409.0,565.6" stroke="#6f6f6f" stroke-width="1.01" fill="none" />
<line x1="381.9" y1="569.6" x2="381.9" y2="800.0" stroke="#8c8c8c" stroke-width="0.9" />
<line x1="400.9" y1="564.0" x2="400.9" y2="789.7" stroke="#8c8c8c" stroke-width="1.01" />
<path d="M377.0,573.0 L377.0,584.0" stroke="#4a4a4a" stroke-width="1.57" fill="none" />
<path d="M410.6,529.8 L411.6,560 L412.2,582.4 L421.0,588.7 L422.8,618.2 L416.2,618.2 L416.2,627.8 L420.9,631.6 L423.8,671.7 L416.2,667.9 L412.3,628.7" stroke="#6f6f6f" stroke-width="1.01" fill="none" />
<path d="M413.0,540.2 L422.5,544.1 L422.5,587.1" stroke="#8c8c8c" stroke-width="0.9" fill="none" />
<path d="M413.0,540.2 L413.8,581.6" stroke="#a8a8a8" stroke-width="0.9" fill="none" />
<path d="M412.3,628.7 L411.6,600.0" stroke="#8c8c8c" stroke-width="0.9" fill="none" />
<path d="M421.0,588.7 L421.6,640.0 L424.0,671.0" stroke="#a8a8a8" stroke-width="0.78" fill="none" />
<line x1="415.2" y1="627.8" x2="415.2" y2="818.3" stroke="#8c8c8c" stroke-width="0.9" />
<path d="M423.3,553.7 L473.5,582.4 L503.0,582.4 L508.5,579.2" stroke="#a8a8a8" stroke-width="1.68" fill="none" />
<path d="M423.3,551.6 L473.9,580.4" stroke="#8c8c8c" stroke-width="0.78" fill="none" />
<path d="M475.1,557.7 L495.8,562.5 L491.0,573.6 L473.5,582.4" stroke="#8c8c8c" stroke-width="1.01" fill="none" />
<path d="M491.0,573.6 L503.0,582.4" stroke="#8c8c8c" stroke-width="1.01" fill="none" />
<path d="M491.0,544.1 L508.5,552.9" stroke="#8c8c8c" stroke-width="1.01" fill="none" />
<path d="M488.6,545.7 L491.0,544.1 L491.0,553.7 L508.5,563.2" stroke="#8c8c8c" stroke-width="1.01" fill="none" />
<path d="M495.8,562.5 L508.5,568.6" stroke="#8c8c8c" stroke-width="0.9" fill="none" />
<line x1="474.2" y1="582.4" x2="474.2" y2="742.0" stroke="#8c8c8c" stroke-width="1.01" />
<path d="M428.6,595.0 C428.6,591.0 430.4,589.4 433.6,591.0 L448.0,599.4 C451.0,601.2 452.5,603.6 452.5,607.4 L452.5,626.6 C452.5,630.6 450.6,631.8 447.4,630.2 L433.0,622.0 C430.0,620.2 428.6,618.0 428.6,614.0 Z" stroke="#6f6f6f" stroke-width="1.01" fill="none" />
<path d="M452.5,607.4 C453.8,608.0 454.2,609.4 454.2,611.0 L454.2,628.0 C454.2,632.2 452.0,633.4 448.8,632.0 L447.4,630.2" stroke="#8c8c8c" stroke-width="0.9" fill="none" />
<line x1="440.4" y1="603.6" x2="440.4" y2="617.2" stroke="#6f6f6f" stroke-width="1.01" />
<line x1="434.4" y1="607.0" x2="446.6" y2="613.6" stroke="#6f6f6f" stroke-width="1.01" />
<line x1="448.6" y1="603.2" x2="451.8" y2="605.0" stroke="#6f6f6f" stroke-width="0.9" />
<line x1="429.6" y1="612.6" x2="432.6" y2="614.2" stroke="#6f6f6f" stroke-width="0.9" />
<line x1="440.4" y1="622.6" x2="440.4" y2="625.8" stroke="#6f6f6f" stroke-width="0.9" />
<path d="M428.6,702.4 C428.6,698.4 430.4,696.8 433.6,698.4 L448.0,706.8 C451.0,708.6 452.5,711.0 452.5,714.8 L452.5,734.0 C452.5,738.0 450.6,739.1999999999999 447.4,737.6 L433.0,729.4 C430.0,727.6 428.6,725.4 428.6,721.4 Z" stroke="#6f6f6f" stroke-width="1.01" fill="none" />
<path d="M452.5,714.8 C453.8,715.4 454.2,716.8 454.2,718.4 L454.2,735.4 C454.2,739.6 452.0,740.8 448.8,739.4 L447.4,737.6" stroke="#8c8c8c" stroke-width="0.9" fill="none" />
<line x1="440.4" y1="711.0" x2="440.4" y2="724.6" stroke="#6f6f6f" stroke-width="1.01" />
<line x1="434.4" y1="714.4" x2="446.6" y2="721.0" stroke="#6f6f6f" stroke-width="1.01" />
<line x1="448.6" y1="710.6" x2="451.8" y2="712.4" stroke="#6f6f6f" stroke-width="0.9" />
<line x1="429.6" y1="720.0" x2="432.6" y2="721.6" stroke="#6f6f6f" stroke-width="0.9" />
<line x1="440.4" y1="730.0" x2="440.4" y2="733.2" stroke="#6f6f6f" stroke-width="0.9" />
<path d="M509.3,756.0 C506.4,754.6 498.2,749.6 492.1,747.4 C486.1,745.2 478.6,743.9 473.0,742.6 C467.4,741.3 463.2,739.3 458.7,739.6 C454.2,739.9 449.0,741.4 446.2,744.6 C443.4,747.8 442.4,754.1 441.9,758.9 C441.4,763.7 442.2,768.3 443.4,773.2 C444.6,778.1 446.1,783.7 449.1,788.5 C452.1,793.3 457.7,797.9 461.5,801.9 C465.3,805.9 470.2,810.6 472.0,812.4" stroke="#6f6f6f" stroke-width="1.01" fill="none" />
<path d="M509.3,760.8 C506.4,759.1 498.0,753.5 492.1,750.8 C486.2,748.1 479.5,746.0 473.9,744.6 C468.3,743.2 463.1,742.0 458.7,742.6 C454.3,743.2 450.0,744.5 447.6,748.0 C445.2,751.5 444.5,759.0 444.3,763.7 C444.1,768.4 444.9,771.8 446.2,776.1 C447.5,780.4 449.3,785.3 452.0,789.4 C454.7,793.5 458.7,797.9 462.5,800.9 C466.3,803.9 470.1,806.5 474.9,807.6 C479.7,808.7 485.4,808.9 491.1,807.6 C496.8,806.3 506.3,801.3 509.3,800.0" stroke="#6f6f6f" stroke-width="1.01" fill="none" />
<path d="M446.2,744.6 C447.2,744.0 449.7,741.6 452.0,741.0 C454.3,740.4 456.5,740.5 460.0,741.0 C463.5,741.5 470.8,743.5 473.0,744.0" stroke="#4a4a4a" stroke-width="1.46" fill="none" />
<path d="M472.0,812.4 L509.3,801.6" stroke="#8c8c8c" stroke-width="1.01" fill="none" />
<path d="M472.0,812.4 L474.4,810.0" stroke="#8c8c8c" stroke-width="0.9" fill="none" />
<line x1="474.4" y1="811.6" x2="474.4" y2="854.7" stroke="#8c8c8c" stroke-width="1.01" />
<ellipse cx="476.4" cy="777.0" rx="24.2" ry="19.4" transform="rotate(25 476.4 777.0)" stroke="#6f6f6f" stroke-width="1.34" fill="#fff"/>
<ellipse cx="476.4" cy="777.0" rx="22.6" ry="18.0" transform="rotate(25 476.4 777.0)" stroke="#a8a8a8" stroke-width="0.78" fill="none"/>
<path d="M454.6,763.0 C454.4,764.2 453.4,768.0 453.4,770.3 C453.4,772.6 453.9,775.0 454.4,777.0 C454.9,779.0 456.2,781.7 456.6,782.6" stroke="#6f6f6f" stroke-width="2.24" fill="none" />
<path d="M497.6,774.0 C498.0,775.0 499.7,778.0 500.2,780.0 C500.7,782.0 500.8,784.2 500.6,786.0 C500.4,787.8 499.1,789.8 498.8,790.6" stroke="#8c8c8c" stroke-width="2.69" fill="none" />
<path d="M445.8,755.5 L453.4,760.8" stroke="#6f6f6f" stroke-width="1.01" fill="none" />
<path d="M453.9,781.8 L448.1,782.6" stroke="#6f6f6f" stroke-width="1.79" fill="none" />
<path d="M498.8,772.2 L509.3,767.5" stroke="#6f6f6f" stroke-width="1.01" fill="none" />
<path d="M498.8,791.4 L509.3,796.1" stroke="#6f6f6f" stroke-width="1.46" fill="none" />
<text x="453.6" y="757.6" font-family="'Liberation Sans',sans-serif" font-size="4" fill="#777" transform="rotate(-30 455 756)">50</text>
<text x="446.6" y="772.6" font-family="'Liberation Sans',sans-serif" font-size="5" font-weight="bold" fill="#777">A</text>
<text x="470.0" y="789.6" font-family="'Liberation Sans',sans-serif" font-size="4" fill="#888">D</text>
<path d="M504.6,781.0 L508.0,781.6 L506.2,785.0 Z" stroke="#6f6f6f" stroke-width="0.9" fill="#6f6f6f" />
<circle cx="457.6" cy="771.6" r="0.7" fill="#6f6f6f"/>
<circle cx="458.0" cy="774.6" r="0.7" fill="#6f6f6f"/>
<circle cx="468.6" cy="791.4" r="0.7" fill="#6f6f6f"/>
<circle cx="492.0" cy="793.0" r="0.7" fill="#6f6f6f"/>
<circle cx="470.0" cy="747.8" r="0.7" fill="#6f6f6f"/>
<circle cx="504.6" cy="788.0" r="0.7" fill="#6f6f6f"/>
<circle cx="504.0" cy="764.6" r="0.7" fill="#6f6f6f"/>
<path d="M400.9,789.7 L376.0,805.0 L376.0,816.4" stroke="#8c8c8c" stroke-width="1.01" fill="none" />
<path d="M400.9,789.7 L412.3,795.4 L412.3,824.1" stroke="#8c8c8c" stroke-width="1.01" fill="none" />
<path d="M376.0,816.4 L388.4,823.1 L405.6,820.3 L412.3,824.1 L416.2,818.3" stroke="#8c8c8c" stroke-width="1.01" fill="none" />
<path d="M376.0,831.7 L388.4,837.5 L406.6,833.6 L506.0,891.0" stroke="#6f6f6f" stroke-width="1.01" fill="none" />
<path d="M369.3,829.6 L376.0,831.7" stroke="#6f6f6f" stroke-width="1.01" fill="none" />
<line x1="388.4" y1="823.1" x2="388.4" y2="837.5" stroke="#8c8c8c" stroke-width="0.9" />
<line x1="405.6" y1="820.3" x2="406.6" y2="833.6" stroke="#8c8c8c" stroke-width="0.9" />
<path d="M416.2,818.3 L500.2,866.1 L506.0,877.6 L507.9,904.3" stroke="#6f6f6f" stroke-width="1.01" fill="none" />
<path d="M500.2,866.1 L504.6,864.4" stroke="#8c8c8c" stroke-width="0.9" fill="none" />
<path d="M506.0,877.6 L509.6,874.6" stroke="#8c8c8c" stroke-width="0.9" fill="none" />
<path d="M506.0,891.0 L509.3,907.5" stroke="#6f6f6f" stroke-width="1.01" fill="none" />
<path d="M474.4,854.7 L500.2,866.1" stroke="#a8a8a8" stroke-width="0.78" fill="none" />
<ellipse cx="453.7" cy="853.9" rx="6.4" ry="7.6" transform="rotate(-8 453.7 853.9)" stroke="#8c8c8c" stroke-width="1.01" fill="none"/>
<ellipse cx="450.4" cy="852.6" rx="3.6" ry="4.6" transform="rotate(-8 450.4 852.6)" stroke="#4a4a4a" stroke-width="1.34" fill="#8a8a8a"/>
<path d="M436.5,842.6 C436.8,842.0 437.2,840.8 438.2,841.2 C439.2,841.6 441.5,843.7 442.5,844.8 C443.5,845.9 444.3,847.4 444.2,848.0 C444.1,848.6 443.2,848.7 442.0,848.6 C440.8,848.5 438.2,848.1 437.2,847.5 C436.2,846.9 436.3,845.7 436.2,844.9 C436.1,844.1 436.2,843.2 436.5,842.6 Z" stroke="#4a4a4a" stroke-width="1.46" fill="none" />
<path d="M435.6,856.6 C435.7,855.3 436.7,853.1 437.8,852.8 C438.9,852.5 441.4,853.8 442.5,855.0 C443.6,856.2 444.2,858.0 444.2,859.8 C444.2,861.6 443.3,864.2 442.5,866.0 C441.7,867.8 440.4,870.1 439.4,870.8 C438.4,871.5 437.3,871.2 436.7,870.4 C436.1,869.6 435.5,867.6 435.6,866.0 C435.7,864.4 437.2,862.4 437.2,860.8 C437.2,859.2 435.5,857.9 435.6,856.6 Z" stroke="#4a4a4a" stroke-width="1.57" fill="none" />
<path d="M443.0,846.0 L447.0,848.4 L447.4,859.4 L443.6,858.6 Z" stroke="#4a4a4a" stroke-width="1.12" fill="#777" />
<ellipse cx="438.2" cy="858.4" rx="1.4" ry="1.8" transform="rotate(0 438.2 858.4)" stroke="#4a4a4a" stroke-width="0.9" fill="#4a4a4a"/>
<line x1="445.0" y1="841.6" x2="446.6" y2="844.6" stroke="#6f6f6f" stroke-width="1.01" />
</g>
<g id="frame">
<line x1="369.3" y1="330.0" x2="369.3" y2="829.5" stroke="#4a4a4a" stroke-width="1.23" />
<line x1="376.0" y1="320.5" x2="376.0" y2="831.0" stroke="#6f6f6f" stroke-width="1.12" />
<line x1="381.8" y1="326.8" x2="381.8" y2="802.0" stroke="#4a4a4a" stroke-width="1.46" />
<line x1="384.4" y1="328.2" x2="384.4" y2="802.0" stroke="#6f6f6f" stroke-width="1.01" />
<line x1="378.9" y1="560.0" x2="378.9" y2="803.0" stroke="#a8a8a8" stroke-width="0.78" />
<circle cx="372.6" cy="325.5" r="0.7" fill="#8c8c8c"/>
<circle cx="372.6" cy="372.0" r="0.7" fill="#8c8c8c"/>
<circle cx="372.6" cy="415.0" r="0.7" fill="#8c8c8c"/>
<circle cx="372.6" cy="443.0" r="0.7" fill="#8c8c8c"/>
<circle cx="372.6" cy="512.0" r="0.7" fill="#8c8c8c"/>
<circle cx="372.6" cy="548.0" r="0.7" fill="#8c8c8c"/>
<circle cx="372.6" cy="590.0" r="0.7" fill="#8c8c8c"/>
<circle cx="372.6" cy="640.0" r="0.7" fill="#8c8c8c"/>
<circle cx="372.6" cy="716.0" r="0.7" fill="#8c8c8c"/>
<circle cx="372.6" cy="724.0" r="0.7" fill="#8c8c8c"/>
<circle cx="372.6" cy="748.0" r="0.7" fill="#8c8c8c"/>
<circle cx="372.6" cy="757.0" r="0.7" fill="#8c8c8c"/>
<circle cx="372.6" cy="772.0" r="0.7" fill="#8c8c8c"/>
<circle cx="372.6" cy="808.0" r="0.7" fill="#8c8c8c"/>
<circle cx="372.6" cy="814.0" r="0.7" fill="#8c8c8c"/>
<circle cx="372.6" cy="820.0" r="0.7" fill="#8c8c8c"/>
<circle cx="372.6" cy="826.0" r="0.7" fill="#8c8c8c"/>
<path d="M364.8,314.2 C362.8,315.0 362.4,317.0 362.5,319.0 L362.6,329.2 L365.2,330.6 L367.8,327.4 L367.8,319.2" stroke="#4a4a4a" stroke-width="1.46" fill="none" />
<path d="M365.2,330.6 L365.2,320.6" stroke="#8c8c8c" stroke-width="0.78" fill="none" />
<path d="M366.2,321.4 L368.4,322.4 L368.4,325.0 L366.2,324.0 Z" stroke="#6f6f6f" stroke-width="0.78" fill="none" />
<line x1="366.6" y1="315.2" x2="506.4" y2="390.6" stroke="#4a4a4a" stroke-width="1.68" />
<line x1="369.6" y1="320.2" x2="419.6" y2="347.0" stroke="#8c8c8c" stroke-width="0.9" />
<line x1="381.8" y1="326.6" x2="419.0" y2="346.6" stroke="#6f6f6f" stroke-width="1.01" />
<path d="M505.7,420.0 L505.7,401.0 C505.9,397.8 507.8,396.2 510.0,396.6 C512.0,397.0 512.6,399.6 512.6,402.8 L512.6,420.0" stroke="#8c8c8c" stroke-width="0.9" fill="none" />
<line x1="497.8" y1="392.0" x2="497.8" y2="494.6" stroke="#6f6f6f" stroke-width="1.01" />
<line x1="500.4" y1="393.0" x2="500.4" y2="495.6" stroke="#6f6f6f" stroke-width="1.12" />
<line x1="503.4" y1="396.0" x2="503.4" y2="479.0" stroke="#a8a8a8" stroke-width="0.78" />
<path d="M506.3,417.5 L509.7,417.5 L509.7,424.1 L506.3,424.1 Z" stroke="#8c8c8c" stroke-width="0.9" fill="none" />
<path d="M506.3,427.1 L509.7,427.1 L509.7,433.7 L506.3,433.7 Z" stroke="#8c8c8c" stroke-width="0.9" fill="none" />
<path d="M506.3,436.7 L509.7,436.7 L509.7,443.3 L506.3,443.3 Z" stroke="#8c8c8c" stroke-width="0.9" fill="none" />
<path d="M506.3,446.3 L509.7,446.3 L509.7,452.9 L506.3,452.9 Z" stroke="#8c8c8c" stroke-width="0.9" fill="none" />
<path d="M506.3,455.9 L509.7,455.9 L509.7,462.5 L506.3,462.5 Z" stroke="#8c8c8c" stroke-width="0.9" fill="none" />
<path d="M506.3,465.5 L509.7,465.5 L509.7,472.1 L506.3,472.1 Z" stroke="#8c8c8c" stroke-width="0.9" fill="none" />
<path d="M502.0,400 L502.0,416 M503.8,398 L503.8,416" stroke="#4a4a4a" stroke-width="1.34" fill="none" />
<path d="M501.4,438.5 L503.4,439.5 L503.4,447.5 L501.4,446.5 Z" stroke="#6f6f6f" stroke-width="1.01" fill="#a8a8a8" />
<circle cx="512.7" cy="433.6" r="0.7" fill="#6f6f6f"/>
<circle cx="512.7" cy="463.2" r="0.7" fill="#6f6f6f"/>
<line x1="509.8" y1="478.0" x2="509.8" y2="907.5" stroke="#6f6f6f" stroke-width="1.01" />
<line x1="508.0" y1="594.0" x2="508.0" y2="905.0" stroke="#8c8c8c" stroke-width="0.9" />
<line x1="515.4" y1="398.0" x2="515.4" y2="912.0" stroke="#a8a8a8" stroke-width="1.01" />
<line x1="517.0" y1="412.0" x2="517.0" y2="912.0" stroke="#8c8c8c" stroke-width="0.9" />
<line x1="518.8" y1="416.0" x2="518.8" y2="911.5" stroke="#4a4a4a" stroke-width="1.57" />
<line x1="523.6" y1="413.6" x2="523.6" y2="911.0" stroke="#6f6f6f" stroke-width="1.01" />
<line x1="526.8" y1="411.6" x2="526.8" y2="909.0" stroke="#4a4a4a" stroke-width="1.46" />
<line x1="531.4" y1="409.2" x2="531.4" y2="906.0" stroke="#4a4a4a" stroke-width="1.12" />
<circle cx="513.2" cy="649.6" r="0.6" fill="#8c8c8c"/>
<circle cx="513.2" cy="680.0" r="0.6" fill="#8c8c8c"/>
<circle cx="513.2" cy="709.8" r="0.6" fill="#8c8c8c"/>
<circle cx="513.2" cy="716.4" r="0.6" fill="#8c8c8c"/>
<circle cx="513.2" cy="560.0" r="0.6" fill="#8c8c8c"/>
<circle cx="513.2" cy="600.0" r="0.6" fill="#8c8c8c"/>
<circle cx="513.2" cy="770.0" r="0.6" fill="#8c8c8c"/>
<circle cx="513.2" cy="820.0" r="0.6" fill="#8c8c8c"/>
<circle cx="513.2" cy="860.0" r="0.6" fill="#8c8c8c"/>
<circle cx="529.4" cy="724.0" r="0.7" fill="#6f6f6f"/>
<circle cx="529.4" cy="596.0" r="0.7" fill="#6f6f6f"/>
<path d="M520.4,565.0 L522.6,565.0 L522.6,574.0 L520.4,574.0 Z" stroke="#8c8c8c" stroke-width="0.78" fill="none" />
<path d="M520.4,648.0 L522.6,648.0 L522.6,657.0 L520.4,657.0 Z" stroke="#8c8c8c" stroke-width="0.78" fill="none" />
<path d="M520.4,700.0 L522.6,700.0 L522.6,709.0 L520.4,709.0 Z" stroke="#8c8c8c" stroke-width="0.78" fill="none" />
<path d="M520.4,760.0 L522.6,760.0 L522.6,769.0 L520.4,769.0 Z" stroke="#8c8c8c" stroke-width="0.78" fill="none" />
<path d="M520.4,815.0 L522.6,815.0 L522.6,824.0 L520.4,824.0 Z" stroke="#8c8c8c" stroke-width="0.78" fill="none" />
<path d="M520.4,865.0 L522.6,865.0 L522.6,874.0 L520.4,874.0 Z" stroke="#8c8c8c" stroke-width="0.78" fill="none" />
<path d="M509.3,907.5 L512.0,911.0 L516.0,913.0 L523.7,911.4 L527.0,909.2 L531.4,906.2" stroke="#6f6f6f" stroke-width="1.12" fill="none" />
<path d="M523.7,898.0 L523.7,911.4" stroke="#4a4a4a" stroke-width="1.79" fill="none" />
<line x1="511.0" y1="398.0" x2="660.9" y2="317.4" stroke="#4a4a4a" stroke-width="1.46" />
<line x1="512.6" y1="401.6" x2="661.8" y2="321.2" stroke="#6f6f6f" stroke-width="1.01" />
<line x1="513.6" y1="405.0" x2="580.0" y2="368.6" stroke="#8c8c8c" stroke-width="0.9" />
<line x1="515.0" y1="412.6" x2="662.0" y2="329.6" stroke="#8c8c8c" stroke-width="0.9" />
<line x1="516.0" y1="416.6" x2="662.2" y2="333.5" stroke="#6f6f6f" stroke-width="1.12" />
<path d="M660.9,317.4 L661.8,317.0 L662.2,333.5" stroke="#6f6f6f" stroke-width="1.12" fill="none" />
<path d="M654.9,312.3 L660.9,317.4" stroke="#6f6f6f" stroke-width="1.01" fill="none" />
<path d="M522.8,403.6 L530.8,399.0 L530.8,401.2 L522.8,405.8 Z" stroke="#6f6f6f" stroke-width="0.9" fill="none" />
<path d="M537.4,395.3 L545.4,390.7 L545.4,392.9 L537.4,397.5 Z" stroke="#6f6f6f" stroke-width="0.9" fill="none" />
<path d="M552.0,387.0 L560.0,382.4 L560.0,384.6 L552.0,389.2 Z" stroke="#6f6f6f" stroke-width="0.9" fill="none" />
<path d="M566.6,378.6 L574.6,374.1 L574.6,376.3 L566.6,380.8 Z" stroke="#6f6f6f" stroke-width="0.9" fill="none" />
<path d="M581.2,370.3 L589.2,365.8 L589.2,368.0 L581.2,372.5 Z" stroke="#6f6f6f" stroke-width="0.9" fill="none" />
<path d="M595.8,362.0 L603.8,357.4 L603.8,359.6 L595.8,364.2 Z" stroke="#6f6f6f" stroke-width="0.9" fill="none" />
<path d="M610.4,353.7 L618.4,349.1 L618.4,351.3 L610.4,355.9 Z" stroke="#6f6f6f" stroke-width="0.9" fill="none" />
<path d="M627.6,330.6 L631.0,328.6 L633.6,332.0 L630.0,334.0 Z" stroke="#4a4a4a" stroke-width="1.12" fill="none" />
<path d="M645.0,320.6 L648.6,318.6 L651.2,322.0 L647.6,324.0 Z" stroke="#4a4a4a" stroke-width="1.12" fill="none" />
<path d="M642.0,331.0 L656.0,323.0 L656.0,327.6 L642.0,335.6 Z" stroke="#6f6f6f" stroke-width="1.01" fill="none" />
<path d="M640.0,327.0 L640.0,338.0" stroke="#4a4a4a" stroke-width="1.57" fill="none" />
<path d="M534.0,384.0 L537.4,382.0 L540.0,385.4 L536.4,387.4 Z" stroke="#4a4a4a" stroke-width="1.12" fill="none" />
<path d="M522.0,391.6 L525.4,389.6 L528.0,393.0 L524.4,395.0 Z" stroke="#4a4a4a" stroke-width="1.12" fill="none" />
<path d="M516.0,401.0 L530.0,393.0" stroke="#4a4a4a" stroke-width="1.34" fill="none" />
<path d="M514.6,408.8 L519.6,406.0 L519.6,410.6 L514.6,413.4 Z" stroke="#6f6f6f" stroke-width="1.01" fill="none" />
<line x1="629.6" y1="352.2" x2="629.6" y2="848.0" stroke="#4a4a4a" stroke-width="1.12" />
<line x1="632.2" y1="350.8" x2="632.2" y2="847.5" stroke="#6f6f6f" stroke-width="1.01" />
<line x1="636.3" y1="348.2" x2="636.3" y2="846.0" stroke="#4a4a4a" stroke-width="1.12" />
<line x1="638.3" y1="347.0" x2="638.3" y2="845.0" stroke="#4a4a4a" stroke-width="1.12" />
<line x1="643.5" y1="344.4" x2="643.5" y2="839.6" stroke="#4a4a4a" stroke-width="1.23" />
<path d="M629.2,848.0 L632.6,849.0 L637.4,847.6 L643.2,839.6" stroke="#6f6f6f" stroke-width="1.01" fill="none" />
<path d="M639.6,520.0 L641.6,520.0 L641.6,529.0 L639.6,529.0 Z" stroke="#6f6f6f" stroke-width="0.78" fill="none" />
<path d="M639.6,570.0 L641.6,570.0 L641.6,579.0 L639.6,579.0 Z" stroke="#6f6f6f" stroke-width="0.78" fill="none" />
<path d="M639.6,640.0 L641.6,640.0 L641.6,649.0 L639.6,649.0 Z" stroke="#6f6f6f" stroke-width="0.78" fill="none" />
<path d="M639.6,700.0 L641.6,700.0 L641.6,709.0 L639.6,709.0 Z" stroke="#6f6f6f" stroke-width="0.78" fill="none" />
<path d="M639.6,760.0 L641.6,760.0 L641.6,769.0 L639.6,769.0 Z" stroke="#6f6f6f" stroke-width="0.78" fill="none" />
<path d="M639.6,815.0 L641.6,815.0 L641.6,824.0 L639.6,824.0 Z" stroke="#6f6f6f" stroke-width="0.78" fill="none" />
<line x1="531.4" y1="892.8" x2="629.2" y2="837.6" stroke="#6f6f6f" stroke-width="1.01" />
<line x1="531.4" y1="902.6" x2="632.6" y2="847.0" stroke="#6f6f6f" stroke-width="1.12" />
<line x1="527.0" y1="909.2" x2="531.4" y2="906.2" stroke="#6f6f6f" stroke-width="0.9" />
</g>
<g id="board">
<path d="M536.1,484.7 L573.0,464.0 C575.6,462.6 578.0,462.8 580.6,464.0 L592.0,469.6 C597.0,472.0 600.1,476.0 600.1,481.0 L600.1,525.7 L536.1,558.6 Z" stroke="#6f6f6f" stroke-width="1.01" fill="#fff" />
<path d="M519.8,492.3 L536.1,484.7 L536.1,558.6 L519.8,566.8 Z" stroke="#6f6f6f" stroke-width="1.01" fill="#fff" />
<line x1="533.6" y1="486.0" x2="533.6" y2="560.0" stroke="#a8a8a8" stroke-width="0.78" />
<circle cx="530.4" cy="493.3" r="1.0" fill="#4a4a4a"/>
<circle cx="521.8" cy="529.2" r="1.0" fill="#4a4a4a"/>
<circle cx="530.4" cy="555.4" r="0.8" fill="#4a4a4a"/>
<path d="M549.0,478.3 L553.0,476.3 L553.0,481.5 L549.0,483.5 Z" stroke="#4a4a4a" stroke-width="1.01" fill="none" />
<path d="M550.2,482.5 L550.2,479.3 L553.0,477.9" stroke="#6f6f6f" stroke-width="0.67" fill="none" />
<path d="M556.1,473.5 L560.1,471.5 L560.1,476.7 L556.1,478.7 Z" stroke="#4a4a4a" stroke-width="1.01" fill="none" />
<path d="M557.3,477.7 L557.3,474.5 L560.1,473.1" stroke="#6f6f6f" stroke-width="0.67" fill="none" />
<path d="M562.8,469.7 L566.8,467.7 L566.8,472.9 L562.8,474.9 Z" stroke="#4a4a4a" stroke-width="1.01" fill="none" />
<path d="M564.0,473.9 L564.0,470.7 L566.8,469.3" stroke="#6f6f6f" stroke-width="0.67" fill="none" />
<path d="M553.2,483.1 L557.2,481.1 L557.2,486.3 L553.2,488.3 Z" stroke="#4a4a4a" stroke-width="1.01" fill="none" />
<path d="M554.4,487.3 L554.4,484.1 L557.2,482.7" stroke="#6f6f6f" stroke-width="0.67" fill="none" />
<path d="M559.5,480.2 L563.5,478.2 L563.5,483.4 L559.5,485.4 Z" stroke="#4a4a4a" stroke-width="1.01" fill="none" />
<path d="M560.7,484.4 L560.7,481.2 L563.5,479.8" stroke="#6f6f6f" stroke-width="0.67" fill="none" />
<path d="M595.2,481.5 L599.2,479.5 L599.2,484.7 L595.2,486.7 Z" stroke="#4a4a4a" stroke-width="1.01" fill="none" />
<path d="M596.4,485.7 L596.4,482.5 L599.2,481.1" stroke="#6f6f6f" stroke-width="0.67" fill="none" />
<path d="M589.5,493.6 L593.5,491.6 L593.5,496.8 L589.5,498.8 Z" stroke="#4a4a4a" stroke-width="1.01" fill="none" />
<path d="M590.7,497.8 L590.7,494.6 L593.5,493.2" stroke="#6f6f6f" stroke-width="0.67" fill="none" />
<path d="M584.3,505.0 L588.3,503.0 L588.3,508.2 L584.3,510.2 Z" stroke="#4a4a4a" stroke-width="1.01" fill="none" />
<path d="M585.5,509.2 L585.5,506.0 L588.3,504.6" stroke="#6f6f6f" stroke-width="0.67" fill="none" />
<path d="M579.4,517.5 L583.4,515.5 L583.4,520.7 L579.4,522.7 Z" stroke="#4a4a4a" stroke-width="1.01" fill="none" />
<path d="M580.6,521.7 L580.6,518.5 L583.4,517.1" stroke="#6f6f6f" stroke-width="0.67" fill="none" />
<path d="M571.3,521.9 L575.3,519.9 L575.3,525.1 L571.3,527.1 Z" stroke="#4a4a4a" stroke-width="1.01" fill="none" />
<path d="M572.5,526.1 L572.5,522.9 L575.3,521.5" stroke="#6f6f6f" stroke-width="0.67" fill="none" />
<path d="M552.3,519.1 L557.1,510.5 L568.6,513.3 L563.8,521.9 Z" stroke="#6f6f6f" stroke-width="1.01" fill="none" />
<path d="M553.6,517.6 L557.6,511.6" stroke="#a8a8a8" stroke-width="0.67" fill="none" />
<path d="M531.8,566.0 L535.4,564.2 L535.4,581.0 L533.0,585.0 L531.8,583.0 Z" stroke="#6f6f6f" stroke-width="0.9" fill="#cfcfcf" />
</g>
<g id="topplate">
<path d="M368.2,313.6 L520.6,224.9 L651.1,300.8 L508.2,381.8 L503.5,386.1 Z" stroke="#6f6f6f" stroke-width="1.12" fill="#fff" />
<line x1="371.6" y1="313.8" x2="520.8" y2="227.2" stroke="#8c8c8c" stroke-width="0.78" />
<line x1="384.0" y1="318.4" x2="500.5" y2="380.6" stroke="#a8a8a8" stroke-width="0.9" />
<line x1="388.0" y1="317.0" x2="503.6" y2="378.6" stroke="#a8a8a8" stroke-width="0.78" />
<path d="M503.5,386.1 L516.6,382.0 C518.6,381.8 519.4,385.0 517.6,386.4 L508.0,391.6 Z" stroke="#6f6f6f" stroke-width="1.01" fill="#fff" />
<path d="M651.1,300.8 L654.9,312.3 L510.0,394.0" stroke="#6f6f6f" stroke-width="1.01" fill="none" />
<ellipse cx="510.5" cy="243.3" rx="8.8" ry="5.3" transform="rotate(0 510.5 243.3)" stroke="#6f6f6f" stroke-width="1.01" fill="none"/>
<path d="M503.0,245.6 L503.6,240.2 M506.8,247.8 L506.8,239.0 L511.2,243.0 L511.2,238.2 M515.0,247.6 L515.0,239.4" stroke="#6f6f6f" stroke-width="0.9" fill="none" />
<ellipse cx="510.9" cy="244.3" rx="7.2" ry="4.0" transform="rotate(0 510.9 244.3)" stroke="#8c8c8c" stroke-width="0.78" fill="none"/>
<ellipse cx="537.6" cy="246.1" rx="4.2" ry="2.6" transform="rotate(0 537.6 246.1)" stroke="#6f6f6f" stroke-width="1.01" fill="none"/>
<ellipse cx="475.4" cy="263.0" rx="9.6" ry="5.6" transform="rotate(0 475.4 263.0)" stroke="#6f6f6f" stroke-width="1.01" fill="none"/>
<ellipse cx="508.8" cy="262.9" rx="9.0" ry="5.4" transform="rotate(0 508.8 262.9)" stroke="#6f6f6f" stroke-width="1.01" fill="none"/>
<ellipse cx="544.0" cy="261.8" rx="8.8" ry="5.4" transform="rotate(0 544.0 261.8)" stroke="#6f6f6f" stroke-width="1.01" fill="none"/>
<path d="M537.0,264.6 L549.6,257.6 M538.6,265.8 L551.0,258.8" stroke="#6f6f6f" stroke-width="0.9" fill="none" />
<ellipse cx="577.4" cy="269.5" rx="5.2" ry="3.2" transform="rotate(0 577.4 269.5)" stroke="#6f6f6f" stroke-width="1.01" fill="none"/>
<path d="M574.6,271.6 L580.6,267.4" stroke="#6f6f6f" stroke-width="0.78" fill="none" />
<ellipse cx="593.1" cy="278.1" rx="5.4" ry="3.2" transform="rotate(0 593.1 278.1)" stroke="#6f6f6f" stroke-width="1.01" fill="none"/>
<ellipse cx="578.3" cy="303.3" rx="9.0" ry="5.4" transform="rotate(0 578.3 303.3)" stroke="#6f6f6f" stroke-width="1.01" fill="none"/>
<ellipse cx="620.8" cy="306.3" rx="8.8" ry="5.4" transform="rotate(0 620.8 306.3)" stroke="#6f6f6f" stroke-width="1.01" fill="none"/>
<path d="M613.6,309.0 L626.0,302.2 M615.2,310.4 L627.4,303.4" stroke="#6f6f6f" stroke-width="0.9" fill="none" />
<path d="M552.6,277.6 L560.6,272.4 C562.0,271.6 563.6,271.8 565.0,272.6 L586.6,284.2 C588.6,285.4 588.6,287.2 587.0,288.2 L578.6,293.6 C577.0,294.4 575.0,294.4 573.4,293.6 L552.0,281.6 C550.0,280.4 550.6,278.6 552.6,277.6 Z" stroke="#6f6f6f" stroke-width="1.01" fill="none" />
<line x1="557.0" y1="274.8" x2="580.8" y2="287.6" stroke="#6f6f6f" stroke-width="1.12" />
<line x1="559.4" y1="273.4" x2="583.0" y2="286.2" stroke="#6f6f6f" stroke-width="1.12" />
<line x1="555.0" y1="276.0" x2="578.8" y2="288.8" stroke="#8c8c8c" stroke-width="0.78" />
<circle cx="528.6" cy="292.4" r="0.8" fill="#8c8c8c"/>
<circle cx="539.0" cy="286.0" r="0.8" fill="#8c8c8c"/>
<circle cx="545.9" cy="322.5" r="0.8" fill="#8c8c8c"/>
<circle cx="556.2" cy="316.6" r="0.8" fill="#8c8c8c"/>
<circle cx="516.8" cy="229.3" r="1.0" fill="#6f6f6f"/>
<circle cx="642.4" cy="302.0" r="1.0" fill="#6f6f6f"/>
<circle cx="381.8" cy="311.5" r="0.9" fill="#6f6f6f"/>
<circle cx="508.0" cy="378.2" r="1.0" fill="#4a4a4a"/>
<circle cx="423.6" cy="336.6" r="0.8" fill="#6f6f6f"/>
<path d="M387.5,320.4 L393.2,316.6 L400.4,317.0 L401.5,319.6 L397.0,323.4 L389.6,323.8 Z" stroke="#8c8c8c" stroke-width="0.9" fill="none" />
<path d="M393.4,320.6 L393.4,328.0" stroke="#8c8c8c" stroke-width="0.9" fill="none" />
<path d="M397.4,322.6 L397.4,329.6" stroke="#8c8c8c" stroke-width="0.9" fill="none" />
<path d="M479.1,372.4 L484.8,368.6 L492.0,369.0 L493.1,371.6 L488.6,375.4 L481.2,375.8 Z" stroke="#8c8c8c" stroke-width="0.9" fill="none" />
<path d="M485.0,372.6 L485.0,380.0" stroke="#8c8c8c" stroke-width="0.9" fill="none" />
<path d="M489.0,374.6 L489.0,381.6" stroke="#8c8c8c" stroke-width="0.9" fill="none" />
</g>
</g>
<g id="bolts">
<line x1="408.9" y1="846.0" x2="408.9" y2="962.5" stroke="#333" stroke-width="0.9" stroke-dasharray="14 3 2 3"/>
<line x1="493.7" y1="893.0" x2="493.7" y2="914.0" stroke="#333" stroke-width="0.9" stroke-dasharray="14 3 2 3"/>
<line x1="535.3" y1="905.0" x2="535.3" y2="1036.0" stroke="#333" stroke-width="0.9" stroke-dasharray="14 3 2 3"/>
<line x1="620.8" y1="856.5" x2="620.8" y2="986.5" stroke="#333" stroke-width="0.9" stroke-dasharray="14 3 2 3"/>
<path d="M406.9,978.6 L406.9,964.0 L407.7,963.2 L410.3,963.2 L411.1,964.0 L411.1,978.6" stroke="#333" stroke-width="1.0" fill="#fff" />
<line x1="409.8" y1="964.1" x2="409.8" y2="977.6" stroke="#666" stroke-width="0.7" />
<path d="M402.5,979.4 L405.5,975.6 L412.3,975.1 L415.4,977.7 L413.7,982.4 L406.9,983.6 Z" stroke="#222" stroke-width="1.5" fill="#fff" />
<path d="M402.7,980.8 L406.9,984.8 L413.9,983.6 L415.4,979.0" stroke="#222" stroke-width="1.0" fill="none" />
<ellipse cx="409.0" cy="978.4" rx="2.9" ry="1.6" transform="rotate(0 409.0 978.4)" stroke="#333" stroke-width="1.0" fill="#fff"/>
<path d="M406.9,978.6 L406.9,974.6" stroke="#333" stroke-width="1.0" fill="none" />
<path d="M411.1,978.6 L411.1,974.6" stroke="#333" stroke-width="1.0" fill="none" />
<path d="M491.7,930.1 L491.7,915.5 L492.5,914.7 L495.1,914.7 L495.9,915.5 L495.9,930.1" stroke="#333" stroke-width="1.0" fill="#fff" />
<line x1="494.6" y1="915.6" x2="494.6" y2="929.1" stroke="#666" stroke-width="0.7" />
<path d="M487.3,930.9 L490.3,927.1 L497.1,926.6 L500.2,929.2 L498.5,933.9 L491.7,935.1 Z" stroke="#222" stroke-width="1.5" fill="#fff" />
<path d="M487.5,932.3 L491.7,936.3 L498.7,935.1 L500.2,930.5" stroke="#222" stroke-width="1.0" fill="none" />
<ellipse cx="493.8" cy="929.9" rx="2.9" ry="1.6" transform="rotate(0 493.8 929.9)" stroke="#333" stroke-width="1.0" fill="#fff"/>
<path d="M491.7,930.1 L491.7,926.1" stroke="#333" stroke-width="1.0" fill="none" />
<path d="M495.9,930.1 L495.9,926.1" stroke="#333" stroke-width="1.0" fill="none" />
<path d="M533.3,1051.4 L533.3,1036.8 L534.1,1036.0 L536.7,1036.0 L537.5,1036.8 L537.5,1051.4" stroke="#333" stroke-width="1.0" fill="#fff" />
<line x1="536.2" y1="1036.9" x2="536.2" y2="1050.4" stroke="#666" stroke-width="0.7" />
<path d="M528.9,1052.2 L531.9,1048.4 L538.7,1047.9 L541.8,1050.5 L540.1,1055.2 L533.3,1056.4 Z" stroke="#222" stroke-width="1.5" fill="#fff" />
<path d="M529.1,1053.6 L533.3,1057.6 L540.3,1056.4 L541.8,1051.8" stroke="#222" stroke-width="1.0" fill="none" />
<ellipse cx="535.4" cy="1051.2" rx="2.9" ry="1.6" transform="rotate(0 535.4 1051.2)" stroke="#333" stroke-width="1.0" fill="#fff"/>
<path d="M533.3,1051.4 L533.3,1047.4" stroke="#333" stroke-width="1.0" fill="none" />
<path d="M537.5,1051.4 L537.5,1047.4" stroke="#333" stroke-width="1.0" fill="none" />
<path d="M618.8,1001.8 L618.8,987.2 L619.6,986.4 L622.2,986.4 L623.0,987.2 L623.0,1001.8" stroke="#333" stroke-width="1.0" fill="#fff" />
<line x1="621.7" y1="987.3" x2="621.7" y2="1000.8" stroke="#666" stroke-width="0.7" />
<path d="M614.4,1002.6 L617.4,998.8 L624.2,998.3 L627.3,1000.9 L625.6,1005.6 L618.8,1006.8 Z" stroke="#222" stroke-width="1.5" fill="#fff" />
<path d="M614.6,1004.0 L618.8,1008.0 L625.8,1006.8 L627.3,1002.2" stroke="#222" stroke-width="1.0" fill="none" />
<ellipse cx="620.9" cy="1001.6" rx="2.9" ry="1.6" transform="rotate(0 620.9 1001.6)" stroke="#333" stroke-width="1.0" fill="#fff"/>
<path d="M618.8,1001.8 L618.8,997.8" stroke="#333" stroke-width="1.0" fill="none" />
<path d="M623.0,1001.8 L623.0,997.8" stroke="#333" stroke-width="1.0" fill="none" />
<line x1="411.7" y1="967.6" x2="427.8" y2="958.3" stroke="#444" stroke-width="0.9" />
<text x="439.2" y="963.8" font-family="'Liberation Mono', monospace" font-size="15" fill="#444" text-anchor="middle" letter-spacing="0">5</text>
<line x1="475.1" y1="911.2" x2="490.6" y2="919.5" stroke="#444" stroke-width="0.9" />
<text x="466.4" y="918.4" font-family="'Liberation Mono', monospace" font-size="15" fill="#444" text-anchor="middle" letter-spacing="0">5</text>
<line x1="537.8" y1="1042.0" x2="553.9" y2="1033.1" stroke="#444" stroke-width="0.9" />
<text x="563.9" y="1038.2" font-family="'Liberation Mono', monospace" font-size="15" fill="#444" text-anchor="middle" letter-spacing="0">5</text>
<line x1="601.5" y1="983.4" x2="617.8" y2="992.4" stroke="#444" stroke-width="0.9" />
<text x="593.4" y="991.0" font-family="'Liberation Mono', monospace" font-size="15" fill="#444" text-anchor="middle" letter-spacing="0">5</text>
</g>
<g id="clips">
<line x1="395.9" y1="286.0" x2="395.9" y2="321.0" stroke="#333" stroke-width="0.9" stroke-dasharray="14 3 2 3"/>
<line x1="488.1" y1="338.5" x2="488.1" y2="373.0" stroke="#333" stroke-width="0.9" stroke-dasharray="14 3 2 3"/>
<g transform="translate(0,0)">
<path d="M384.8,279.8 L387.6,273.2 L400.8,267.0 L409.0,272.0 L407.8,276.6 L404.6,278.4 L404.0,280.0 L394.4,284.8 L393.0,283.6 L390.0,283.4 Z" stroke="#111" stroke-width="1.0" fill="#111" />
<path d="M388.4,274.0 L399.4,268.8 L403.4,271.2 L400.6,275.4 L397.4,278.0 L393.6,278.2 Z" stroke="#fff" stroke-width="0.6" fill="#fff" />
<ellipse cx="396.3" cy="273.5" rx="4.5" ry="2.9" transform="rotate(-12 396.3 273.5)" stroke="#111" stroke-width="1.3" fill="#fff"/>
<ellipse cx="396.4" cy="273.6" rx="2.1" ry="1.3" transform="rotate(-12 396.4 273.6)" stroke="#111" stroke-width="0.8" fill="#fff"/>
<path d="M403.4,269.6 L407.6,272.4 L407.0,274.8 L402.6,271.8 Z" stroke="#fff" stroke-width="0.4" fill="#fff" />
<path d="M388.0,279.0 L390.4,280.2 L390.0,282.2 L387.6,281.0 Z" stroke="#fff" stroke-width="0.3" fill="#fff" />
<path d="M392.0,280.4 L395.0,281.8 L394.6,283.6 L391.6,282.4 Z" stroke="#fff" stroke-width="0.3" fill="#fff" />
</g>
<g transform="translate(92.1,52.5)">
<path d="M384.8,279.8 L387.6,273.2 L400.8,267.0 L409.0,272.0 L407.8,276.6 L404.6,278.4 L404.0,280.0 L394.4,284.8 L393.0,283.6 L390.0,283.4 Z" stroke="#111" stroke-width="1.0" fill="#111" />
<path d="M388.4,274.0 L399.4,268.8 L403.4,271.2 L400.6,275.4 L397.4,278.0 L393.6,278.2 Z" stroke="#fff" stroke-width="0.6" fill="#fff" />
<ellipse cx="396.3" cy="273.5" rx="4.5" ry="2.9" transform="rotate(-12 396.3 273.5)" stroke="#111" stroke-width="1.3" fill="#fff"/>
<ellipse cx="396.4" cy="273.6" rx="2.1" ry="1.3" transform="rotate(-12 396.4 273.6)" stroke="#111" stroke-width="0.8" fill="#fff"/>
<path d="M403.4,269.6 L407.6,272.4 L407.0,274.8 L402.6,271.8 Z" stroke="#fff" stroke-width="0.4" fill="#fff" />
<path d="M388.0,279.0 L390.4,280.2 L390.0,282.2 L387.6,281.0 Z" stroke="#fff" stroke-width="0.3" fill="#fff" />
<path d="M392.0,280.4 L395.0,281.8 L394.6,283.6 L391.6,282.4 Z" stroke="#fff" stroke-width="0.3" fill="#fff" />
</g>
<line x1="374.6" y1="261.0" x2="389.9" y2="269.6" stroke="#444" stroke-width="0.9" />
<line x1="466.6" y1="313.4" x2="481.9" y2="322.0" stroke="#444" stroke-width="0.9" />
<text x="364.9" y="266.9" font-family="'Liberation Mono', monospace" font-size="15" fill="#444" text-anchor="middle" letter-spacing="3.4">10</text>
<text x="456.9" y="319.3" font-family="'Liberation Mono', monospace" font-size="15" fill="#444" text-anchor="middle" letter-spacing="3.4">10</text>
</g>
<text x="796.0" y="1122.6" font-family="'Liberation Mono', monospace" font-size="12" fill="#444" text-anchor="start" letter-spacing="1.6">6721904636.ab</text>
</svg>
</body></html>
